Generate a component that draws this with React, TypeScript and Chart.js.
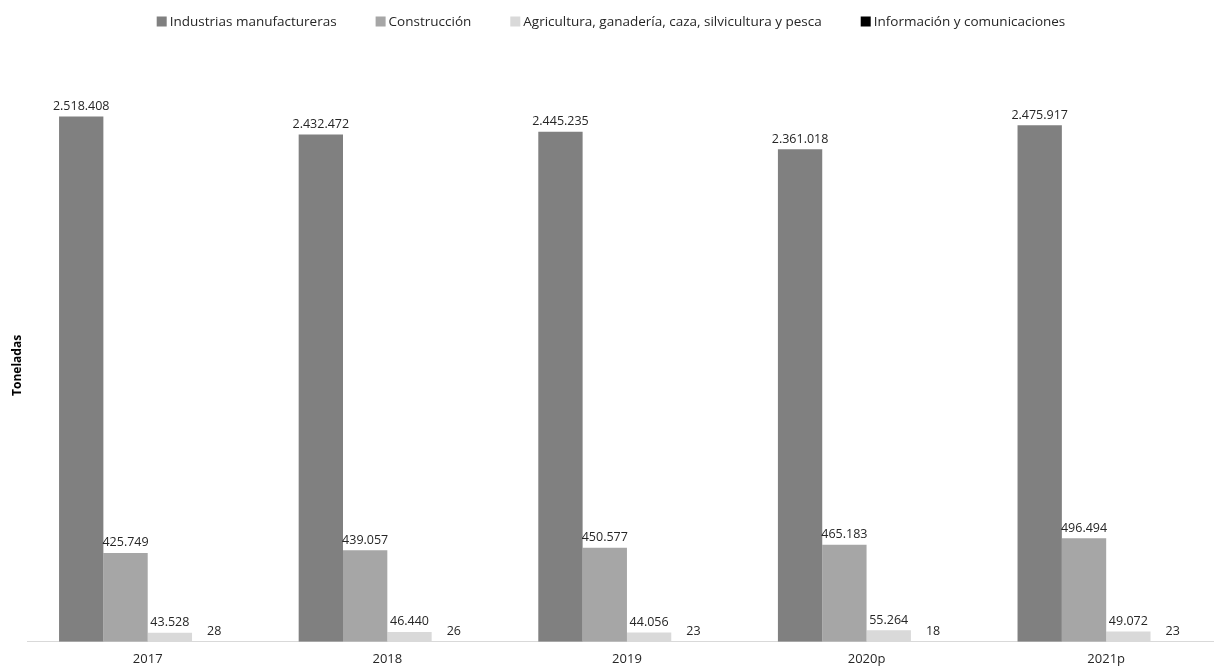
import React, { useEffect, useRef } from "react";
import { Chart, registerables } from "chart.js";

Chart.register(...registerables);

const categories = ["2017", "2018", "2019", "2020p", "2021p"];
const seriesNames = [
  "Industrias manufactureras",
  "Construcción",
  "Agricultura, ganadería, caza, silvicultura y pesca",
  "Información y comunicaciones",
];
const industrias = [2518408, 2432472, 2445235, 2361018, 2475917];
const construccion = [425749, 439057, 450577, 465183, 496494];
const agricultura = [43528, 46440, 44056, 55264, 49072];
const informacion = [28, 26, 23, 18, 23];
const colors = ["#808080", "#a6a6a6", "#d9d9d9", "#000000"];

const FONT = "'Open Sans', 'Noto Sans', sans-serif";
const TEXT = "#262626";

const fmt = (v: number) => String(v).replace(/\B(?=(\d{3})+(?!\d))/g, ".");

const valueLabels = {
  id: "valueLabels",
  afterDatasetsDraw(chart: any) {
    const ctx = chart.ctx;
    ctx.save();
    ctx.font = `12.5px ${FONT}`;
    ctx.fillStyle = TEXT;
    ctx.textAlign = "center";
    ctx.textBaseline = "bottom";
    chart.data.datasets.forEach((ds: any, i: number) => {
      const meta = chart.getDatasetMeta(i);
      meta.data.forEach((bar: any, j: number) => {
        ctx.fillText(fmt(ds.data[j]), bar.x, bar.y - 4);
      });
    });
    ctx.restore();
  },
};

const customLegend = {
  id: "customLegend",
  afterDraw(chart: any) {
    const ctx = chart.ctx;
    ctx.save();
    ctx.font = `13.5px ${FONT}`;
    ctx.textBaseline = "middle";
    ctx.textAlign = "left";
    const box = 10;
    const gap = 3;
    const itemGap = 39;
    const names = chart.data.datasets.map((d: any) => d.label);
    const widths = names.map((n: string) => box + gap + ctx.measureText(n).width);
    const total = widths.reduce((a: number, b: number) => a + b, 0) + itemGap * (names.length - 1);
    let x = chart.width / 2 - 2 - total / 2;
    const y = 21.5;
    names.forEach((n: string, i: number) => {
      ctx.fillStyle = chart.data.datasets[i].backgroundColor;
      ctx.fillRect(x, y - box / 2, box, box);
      ctx.fillStyle = TEXT;
      ctx.fillText(n, x + box + gap, y + 0.5);
      x += widths[i] + itemGap;
    });
    ctx.restore();
  },
};

export default function App() {
  const ref = useRef<HTMLCanvasElement>(null);
  useEffect(() => {
    if (!ref.current) return;
    const data = [industrias, construccion, agricultura, informacion];
    const chart = new Chart(ref.current, {
      type: "bar",
      data: {
        labels: categories,
        datasets: data.map((d, i) => ({
          label: seriesNames[i],
          data: d,
          backgroundColor: colors[i],
          borderWidth: 0,
          categoryPercentage: 0.74,
          barPercentage: 1,
        })),
      },
      options: {
        animation: false,
        responsive: false,
        maintainAspectRatio: false,
        layout: { padding: { left: 6, right: 0, top: 89, bottom: -6.8 } },
        plugins: {
          legend: { display: false },
          tooltip: { enabled: false },
        },
        scales: {
          x: {
            grid: { display: false, drawTicks: false, tickLength: 0 },
            border: { display: true, color: "#d9d9d9", width: 1 },
            ticks: { color: TEXT, font: { family: FONT, size: 13 }, padding: 9.2 },
          },
          y: {
            min: 0,
            max: 2650000,
            grid: { display: false, drawTicks: false, tickLength: 0 },
            border: { display: false },
            ticks: { display: false },
            title: {
              display: true,
              text: "Toneladas",
              color: "#000000",
              font: { family: FONT, size: 12, weight: "bold" },
              padding: { top: 4, bottom: 3.5 },
            },
          },
        },
      },
      plugins: [valueLabels, customLegend],
    });
    return () => chart.destroy();
  }, []);
  return (
    <div style={{ position: "absolute", left: 0, top: 0, width: 1214, height: 669, overflow: "hidden", background: "#fff" }}>
      <canvas ref={ref} width={1226} height={669} style={{ width: 1226, height: 669 }} />
    </div>
  );
}
